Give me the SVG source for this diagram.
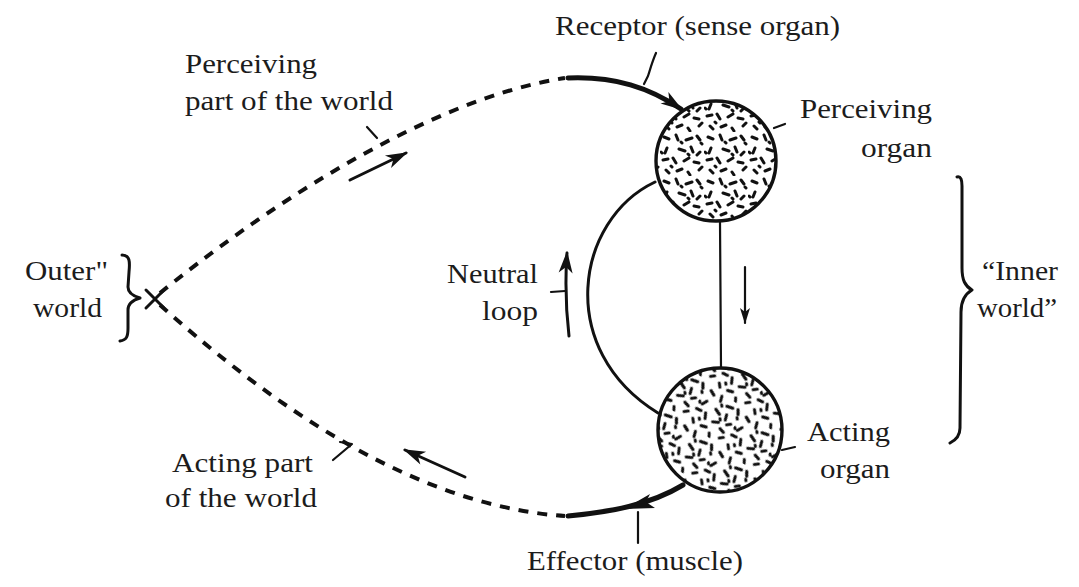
<svg xmlns="http://www.w3.org/2000/svg" width="1079" height="587" viewBox="0 0 1079 587">
<style>
text{font-family:"Liberation Serif","Times New Roman",serif;font-size:27px;fill:#1c1c1c}
.dash{fill:none;stroke:#111;stroke-width:4;stroke-dasharray:10 9;stroke-linecap:butt}
.solid{fill:none;stroke:#111;stroke-width:5;stroke-linecap:round}
.thin{fill:none;stroke:#111;stroke-width:2.2;stroke-linecap:round;stroke-linejoin:round}
.mid{fill:none;stroke:#111;stroke-width:3;stroke-linecap:round;stroke-linejoin:round}
.organ{stroke:#111;stroke-width:3.4}
</style>
<defs>
<pattern id="speck" width="44" height="44" patternUnits="userSpaceOnUse">
<rect width="44" height="44" fill="#fff"/>
<path d="M4,5 l5,2 M16,3 l2,5 M26,8 l6,-2 M37,4 l3,4 M7,16 l-2,5 M19,17 l6,2 M31,15 l2,5 M40,20 l-3,3 M3,28 l5,-1 M13,26 l3,5 M24,29 l5,-3 M34,30 l5,1 M6,38 l3,3 M17,39 l5,-2 M28,40 l2,3 M39,38 l3,-3 M21,10 l1,1 M11,34 l1,1 M41,11 l1,1 M28,22 l1,1 M1,20 l1,1" stroke="#111" stroke-width="3" stroke-linecap="round" fill="none"/>
</pattern>
<pattern id="speck2" href="#speck" patternTransform="rotate(37) translate(7,11)"/>
<marker id="ah" viewBox="0 0 22 14" markerWidth="22" markerHeight="14" refX="20" refY="7" orient="auto" markerUnits="userSpaceOnUse" overflow="visible">
<path d="M0,0 L22,7 L0,14 L6,7 z" fill="#111"/>
</marker>
<marker id="ahs" viewBox="0 0 16 10" markerWidth="16" markerHeight="10" refX="15" refY="5" orient="auto" markerUnits="userSpaceOnUse" overflow="visible">
<path d="M0,0 L16,5 L0,10 L4,5 z" fill="#111"/>
</marker>
</defs>
<rect width="1079" height="587" fill="#fff"/>

<g id="connectors">
<path class="dash" d="M160,293 C250,220 420,100 565,78"/>
<path class="solid" d="M568,78 C615,76 650,88 681,109" marker-end="url(#ah)"/>
<path class="dash" d="M160,305 C250,385 400,505 565,516"/>
<path class="solid" d="M568,516 C610,512 650,505 683,485"/>
<polygon points="624,509 650,494 646,502 655,508" fill="#111"/>
<path class="mid" d="M655,182 C575,220 555,350 658,413" stroke-width="2.6"/>
<path class="thin" d="M720,222 L721,367"/>
<path class="mid" d="M350,180 L406,153" stroke-width="3.6" marker-end="url(#ah)"/>
<path class="mid" d="M465,477 L405,450" stroke-width="3.6" marker-end="url(#ah)"/>
<path class="mid" d="M569,336 C566,310 565,282 567,253" stroke-width="3.6" marker-end="url(#ah)"/>
<path class="thin" d="M745,267 L745,323" stroke-width="2.4" marker-end="url(#ahs)"/>
</g>

<g id="node-perceiving-organ">
<circle class="organ" cx="716" cy="161" r="60" fill="url(#speck)"/>
</g>
<g id="node-acting-organ">
<circle class="organ" cx="720" cy="430" r="62" fill="url(#speck2)"/>
</g>

<g id="outer-world">
<path class="mid" d="M122,255 C130,255 130,262 129,272 L128,287 C128,293 133,296 140,298 C133,300 128,303 128,310 L128,328 C128,336 127,340 120,341" stroke-width="3.6"/>
<path class="mid" d="M146,290 L164,308 M164,290 L146,308"/>
<text x="25" y="280" textLength="83" lengthAdjust="spacingAndGlyphs">Outer"</text>
<text x="33" y="317" textLength="69" lengthAdjust="spacingAndGlyphs">world</text>
</g>

<g id="inner-world">
<path class="mid" d="M957,177 C961,176 962,180 962,186 L962,268 C962,280 965,286 972,290 C965,294 961,300 961,312 L960,428 C960,436 956,440 950,443"/>
<text x="982" y="280" textLength="76" lengthAdjust="spacingAndGlyphs">“Inner</text>
<text x="977" y="317" textLength="80" lengthAdjust="spacingAndGlyphs">world”</text>
</g>

<g id="labels">
<text x="555" y="35" textLength="285" lengthAdjust="spacingAndGlyphs">Receptor (sense organ)</text>
<path class="thin" d="M656,53 C652,62 650,70 648,76 L644,84"/>
<text x="185" y="73" textLength="132" lengthAdjust="spacingAndGlyphs">Perceiving</text>
<text x="185" y="110" textLength="208" lengthAdjust="spacingAndGlyphs">part of the world</text>
<path class="thin" d="M367,127 L377,138"/>
<text x="800" y="118" textLength="132" lengthAdjust="spacingAndGlyphs">Perceiving</text>
<text x="861" y="157" textLength="71" lengthAdjust="spacingAndGlyphs">organ</text>
<path class="thin" d="M774,128 L785,124"/>
<text x="447" y="283" textLength="91" lengthAdjust="spacingAndGlyphs">Neutral</text>
<text x="482" y="320" textLength="56" lengthAdjust="spacingAndGlyphs">loop</text>
<path class="thin" d="M551,292 L565,291"/>
<text x="807" y="441" textLength="83" lengthAdjust="spacingAndGlyphs">Acting</text>
<text x="820" y="478" textLength="70" lengthAdjust="spacingAndGlyphs">organ</text>
<path class="thin" d="M782,450 L795,447"/>
<text x="172" y="472" textLength="141" lengthAdjust="spacingAndGlyphs">Acting part</text>
<text x="165" y="507" textLength="152" lengthAdjust="spacingAndGlyphs">of the world</text>
<path class="thin" d="M340,442 L352,444 L333,460"/>
<text x="527" y="570" textLength="216" lengthAdjust="spacingAndGlyphs">Effector (muscle)</text>
<path class="thin" d="M638,512 L638,543"/>
</g>
</svg>
